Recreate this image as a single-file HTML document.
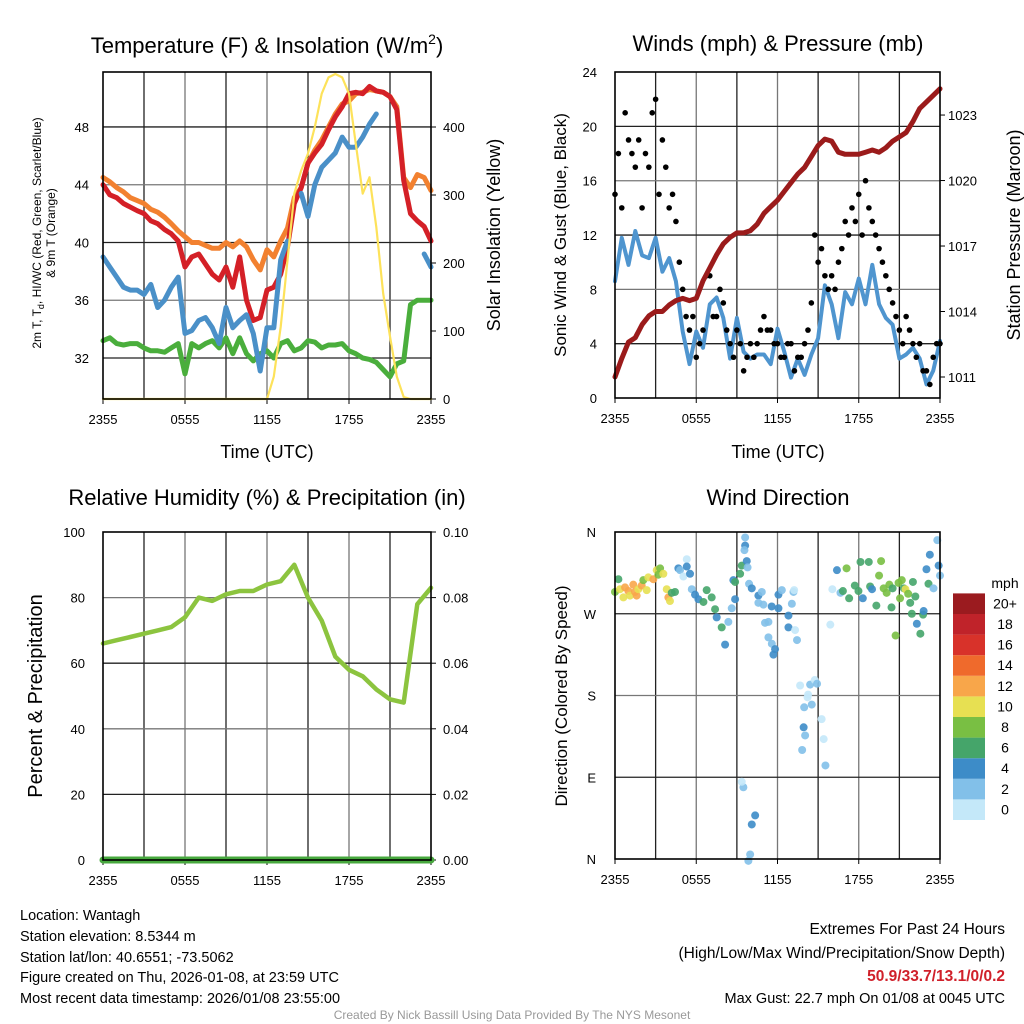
<!DOCTYPE html>
<html><head><meta charset="utf-8"><style>
html,body{margin:0;padding:0;background:#fff;}
svg{display:block;font-family:"Liberation Sans",sans-serif;}
</style></head><body>
<svg id="s" width="1024" height="1024" viewBox="0 0 1024 1024" xmlns="http://www.w3.org/2000/svg">
<rect width="1024" height="1024" fill="#fff"/>
<g font-size="22" text-anchor="middle" fill="#000">
<text x="267" y="53">Temperature (F) &amp; Insolation (W/m<tspan font-size="14" dy="-9">2</tspan><tspan dy="9">)</tspan></text>
<text x="778" y="51">Winds (mph) &amp; Pressure (mb)</text>
<text x="267" y="505">Relative Humidity (%) &amp; Precipitation (in)</text>
<text x="778" y="505">Wind Direction</text>
</g>
<g font-size="18" text-anchor="middle">
<text x="267" y="458">Time (UTC)</text>
<text x="778" y="458">Time (UTC)</text>
<text transform="translate(500,235) rotate(-90)">Solar Insolation (Yellow)</text>
<text transform="translate(566,235) rotate(-90)" font-size="17">Sonic Wind &amp; Gust (Blue, Black)</text>
<text transform="translate(1020,235) rotate(-90)" font-size="18">Station Pressure (Maroon)</text>
<text transform="translate(42,696) rotate(-90)" font-size="20">Percent &amp; Precipitation</text>
<text transform="translate(567,696) rotate(-90)" font-size="17">Direction (Colored By Speed)</text>
</g>
<g font-size="12" text-anchor="middle">
<text transform="translate(41,233) rotate(-90)">2m T, T<tspan font-size="9" dy="3">d</tspan><tspan dy="-3">, HI/WC (Red, Green, Scarlet/Blue)</tspan></text>
<text transform="translate(55,233) rotate(-90)">&amp; 9m T (Orange)</text>
</g>
<g id="plots"></g>
<g font-size="14.5" fill="#000">
<text x="20" y="920">Location: Wantagh</text>
<text x="20" y="941">Station elevation: 8.5344 m</text>
<text x="20" y="962">Station lat/lon: 40.6551; -73.5062</text>
<text x="20" y="982">Figure created on Thu, 2026-01-08, at 23:59 UTC</text>
<text x="20" y="1003">Most recent data timestamp: 2026/01/08 23:55:00</text>
<g text-anchor="end">
<text x="1005" y="934" font-size="15.5">Extremes For Past 24 Hours</text>
<text x="1005" y="958" font-size="15.5">(High/Low/Max Wind/Precipitation/Snow Depth)</text>
<text x="1005" y="981" font-size="15.5" font-weight="bold" fill="#d0202a">50.9/33.7/13.1/0/0.2</text>
<text x="1005" y="1003">Max Gust: 22.7 mph On 01/08 at 0045 UTC</text>
</g>
<text x="512" y="1019" font-size="12" fill="#999" text-anchor="middle">Created By Nick Bassill Using Data Provided By The NYS Mesonet</text>
</g>
</svg>
<script>
const xTicks=['2355','0555','1155','1755','2355'];
const tempTicks=[32,36,40,44,48];
const solarTicks=[0,100,200,300,400];
const windTicks=[0,4,8,12,16,20,24];
const presTicks=[1011,1014,1017,1020,1023];
const rhTicks=[0,20,40,60,80,100];
const precTicks=['0.00','0.02','0.04','0.06','0.08','0.10'];
const dirLabels=['N','E','S','W','N'];
const red=[44,43.3,43.1,42.7,42.45,42.2,42,41.5,41.3,40.9,40.6,40.1,38.3,39,39.2,38.5,37.8,37.4,38.3,36.9,39,36,34.6,34.8,36.7,36.9,37.8,39.7,42.7,43.8,45.5,46.2,46.8,47.8,48.7,49.4,50.3,50.4,50.3,50.8,50.5,50.4,50.1,49.2,44.3,42,41.5,41.1,40.1];
const orange=[44.5,44.2,43.8,43.5,43.1,42.9,42.7,42.3,42.1,41.75,41.3,40.8,40.4,40,40,39.8,39.6,39.6,40,39.7,40.1,39.7,38.8,38.1,39.5,39,40.1,41,43.1,43.8,45.5,46.4,47.1,48,48.9,49.6,49.8,50.3,50.4,50.6,50.5,50.4,50.1,49.4,44.5,43.8,44.7,44.5,43.6];
const blue=[39,38.3,37.6,36.9,36.7,36.7,36.4,37.1,35.5,36,36.9,37.6,33.7,33.9,34.6,34.8,34.1,33,35.5,34.1,34.6,35,33.7,31.1,34.1,34.1,38.8,40.1,null,43.4,41.8,44,45.2,45.7,46.2,47.3,46.6,46.6,47.3,48.2,48.9,null,null,null,42.2,null,null,39.2,38.3];
const green=[33.2,33.4,33,32.9,33,33,32.7,32.5,32.5,32.4,32.7,33,30.9,33,32.7,33,33.2,32.7,33.4,32.3,33.4,32.3,31.8,32.3,32.5,32,33,33.2,32.5,32.7,33.2,33.1,32.7,32.9,32.9,33,32.5,32.3,32,31.9,31.7,31.2,30.7,31.6,31.8,35.7,36,36,36];
const solar=[0,0,0,0,0,0,0,0,0,0,0,0,0,0,0,0,0,0,0,0,0,0,0,0,0,33,106,204,302,336,361,400,449,473,478,473,449,375,302,326,253,155,92,33,3,0,0,0,0];
const pressure=[1011,1011.85,1012.6,1012.8,1013.4,1013.8,1014,1014,1014.3,1014.5,1014.6,1014.5,1014.6,1015.4,1016,1016.6,1017.1,1017.4,1017.6,1017.6,1017.7,1018,1018.5,1018.8,1019.1,1019.5,1019.9,1020.3,1020.6,1021.1,1021.6,1021.9,1021.8,1021.3,1021.2,1021.2,1021.2,1021.3,1021.4,1021.3,1021.5,1021.8,1022,1022.2,1022.7,1023.3,1023.6,1023.9,1024.2];
const wind=[8.6,11.8,9.8,12.3,10.5,10.3,11.8,9.3,10.3,8.6,4.9,2.5,4.9,3.7,6.9,7.4,5.9,2.9,5.9,3.4,2.9,3.2,3.2,2.5,5.1,3.4,1.5,2.9,1.7,3.2,4.4,8.3,6.9,4.4,7.8,6.9,8.8,6.9,9.8,6.9,5.9,5.4,2.9,3.2,3.7,2.9,1,2,4.2];
const gustA=[15,14,19,17,14,17,22,19,14,13,8,5,3,5,9,6,7,4,5,2,4,4,6,5,4,3,4,3,4,7,10,9,9,10,13,14,15,16,13,11,9,7,5,6,4,4,2,3,4];
const gustB=[18,21,18,19,18,21,15,17,15,10,6,6,4,9,6,8,5,3,4,3,3,5,5,4,3,4,2,3,5,12,11,8,8,11,12,13,12,14,12,10,8,6,4,5,3,2,1,4,3];
const rh=[66,67,68,69,70,71,74,80,79,81,82,82,84,85,90,80,73,62,58,56,52,49,48,78,83];
const precip=[0,0,0,0,0,0,0,0,0,0,0,0,0,0,0,0,0,0,0,0,0,0,0,0,0];
const dirHour=[0,0.25,0.37,0.62,0.74,0.99,1.11,1.35,1.48,1.6,1.72,1.97,2.09,2.34,2.46,2.83,3.08,3.2,3.33,3.57,3.82,3.94,4.06,4.19,4.43,4.68,4.8,5.05,5.3,5.3,5.54,5.67,5.91,6.16,6.53,6.77,7.14,7.39,7.51,7.88,8.13,8.37,8.62,8.87,8.74,8.87,9.24,9.36,9.61,9.85,9.98,10.1,10.35,9.48,9.36,9.56,9.73,9.61,9.79,9.9,10.1,10.59,10.59,10.84,10.96,11.08,11.33,11.33,11.58,11.57,11.82,11.7,12.07,12.07,12.32,12.81,12.81,13.06,13.18,13.23,13.3,13.44,13.67,13.82,13.93,13.97,14.04,14.22,14.26,14.41,14.53,14.75,14.92,15.26,15.41,15.54,15.9,16.05,16.39,16.65,16.83,17.1,17.29,17.71,17.98,18.13,18.3,18.74,18.84,18.98,19.3,19.5,19.65,19.84,20.06,20.26,20.42,20.5,20.72,20.94,21.05,21.18,21.33,21.45,21.65,21.8,22.0,21.92,22.18,22.29,22.55,22.75,22.79,23.0,23.15,23.25,23.52,23.8,24.0,23.9];
const dirDeg=[294,308,297,288,299,295,290,302,294,290,297,301,307,296,310,308,318,313,320,314,297,288,284,293,294,320,318,311,330,322,314,297,291,286,283,296,288,275,266,255,236,261,276,286,307,305,314,323,345,-2,5,38,48,79,85,340,328,354,321,303,298,290,282,294,280,260,261,244,237,278,231,225,291,276,296,255,268,281,294,296,252,241,191,120,145,167,136,178,181,192,170,197,193,154,132,103,258,297,318,293,295,320,287,301,295,327,287,327,300,297,279,312,328,298,293,302,277,298,246,304,287,307,298,297,292,282,305,270,289,259,248,269,273,319,303,335,298,351,312,323,334,137,125,132,141,124,215,234,225,346,81,75,62,35,5,1,18,16,20,10];
const dirSpd=[9,7,10,10,12,12,10,12,12,12,10,12,8,10,10,12,10,8,8,10,10,12,10,7,6,4,2,1,1,4,4,3,4,4,6,6,6,7,4,6,4,3,3,4,4,6,6,6,4,2,2,4,4,2,1,3,4,2,2,2,4,4,2,2,2,2,3,2,2,4,4,4,4,4,2,4,4,2,2,1,1,2,1,2,4,3,2,1,1,2,2,1,2,1,1,2,0,1,4,2,6,8,6,6,6,6,4,6,6,4,6,8,8,8,8,8,6,6,8,8,8,8,6,10,8,6,6,6,6,4,6,6,4,4,6,4,2,2,2,4,2,2,4,4,4,2,2,1,1,1,1,1,1,1,2,4,4,2,4,2];
const scaleColors=['#c4e8f9','#82c0e9','#3d8cc8','#45a56a','#79bf43','#e7e052','#f8a64a','#ef6a2c','#d8322a','#c0232a','#9b1b1f'];
const scaleLabels=['0','2','4','6','8','10','12','14','16','18','20+'];

const NS='http://www.w3.org/2000/svg';
const root=document.getElementById('plots');
function mk(tag,attrs,name,parent){
  const el=document.createElementNS(NS,tag);
  for(const k in attrs) el.setAttribute(k,attrs[k]);
  
  
  (parent||root).appendChild(el);
  return el;
}
function txt(x,y,s,anchor,name,size){
  const t=mk('text',{x:x,y:y,'text-anchor':anchor,'font-size':size||13},name);
  t.textContent=s;return t;
}
function panel(L,R,T,B){return {L,R,T,B,x:h=>L+(R-L)*h/24};}
const P1=panel(103,431,72,399), P2=panel(615,940,72,398), P3=panel(103,431,532,860), P4=panel(615,940,532,859);
const yTemp=v=>358-(v-32)*14.44;
const ySolar=v=>399-v*0.68;
const yWind=v=>398-v*13.58;
const yPres=v=>377-(v-1011)*21.83;
const yRH=v=>860-v*3.28;
const yPrec=v=>860-v*3280;
const yDir=d=>859-d/360*327;

function frame(P,hlines,pre){
  for(let k=1;k<8;k++){const x=P.L+(P.R-P.L)*k/8;
    mk('line',{x1:x,x2:x,y1:P.T,y2:P.B,stroke:k%2?'#222':'#777','stroke-width':1.3},pre+'-vgrid');}
  hlines.forEach((y,i)=>mk('line',{x1:P.L,x2:P.R,y1:y,y2:y,stroke:i%2?'#777':'#222','stroke-width':1.3},pre+'-hgrid'));
  xTicks.forEach((s,i)=>{const x=P.L+(P.R-P.L)*i/4;
    mk('line',{x1:x,x2:x,y1:P.B,y2:P.B+5,stroke:'#000'},pre+'-xtick');
    txt(x,P.B+25,s,'middle',pre+'-xtick-label');});
}
function border(P,pre){mk('rect',{x:P.L,y:P.T,width:P.R-P.L,height:P.B-P.T,fill:'none',stroke:'#000','stroke-width':1.6},pre+'-frame');}
function line(P,arr,yf,n,color,w,name){
  let d='',pen=false;
  arr.forEach((v,i)=>{ if(v===null){pen=false;return;}
    const x=P.x(i*24/(n-1)), y=yf(v); d+=(pen?'L':'M')+x.toFixed(1)+' '+y.toFixed(1)+' '; pen=true;});
  mk('path',{d:d,fill:'none',stroke:color,'stroke-width':w,'stroke-linejoin':'round','stroke-linecap':'round'},name);
}

// Panel 1
frame(P1,tempTicks.map(yTemp),'temp');
tempTicks.forEach(t=>txt(P1.L-14,yTemp(t)+5,t,'end','temp-ytick-label'));
solarTicks.forEach(t=>{mk('line',{x1:P1.R,x2:P1.R+5,y1:ySolar(t),y2:ySolar(t),stroke:'#000'},'solar-tick');txt(P1.R+12,ySolar(t)+5,t,'start','solar-tick-label');});
line(P1,green,yTemp,49,'#4aae3c',5,'dewpoint-line');
line(P1,orange,yTemp,49,'#f28130',5,'temp-9m-line');
line(P1,red,yTemp,49,'#d42027',5,'temp-2m-line');
line(P1,blue,yTemp,49,'#4a90c8',5,'windchill-line');
line(P1,solar,ySolar,49,'#fde25a',2.2,'solar-line');
border(P1,'temp');

// Panel 2
frame(P2,windTicks.slice(1,6).map(yWind),'wind');
windTicks.forEach(t=>txt(P2.L-18,yWind(t)+5,t,'end','wind-ytick-label'));
presTicks.forEach(t=>{mk('line',{x1:P2.R,x2:P2.R+5,y1:yPres(t),y2:yPres(t),stroke:'#000'},'pres-tick');txt(P2.R+8,yPres(t)+5,t,'start','pres-tick-label');});
line(P2,wind,yWind,49,'#4f95cf',4,'wind-line');
gustA.forEach((g,i)=>mk('circle',{cx:P2.x(i*0.5),cy:yWind(g),r:2.8,fill:'#000'},'gust-dot'));
gustB.forEach((g,i)=>{ if(i<48) mk('circle',{cx:P2.x(i*0.5+0.25),cy:yWind(g),r:2.8,fill:'#000'},'gust-dot');});
line(P2,pressure,yPres,49,'#9b1b1b',5,'pressure-line');
border(P2,'wind');

// Panel 3
frame(P3,[20,40,60,80].map(yRH),'rh');
rhTicks.forEach((t,i)=>{txt(P3.L-18,yRH(t)+5,t,'end','rh-ytick-label');
  mk('line',{x1:P3.R,x2:P3.R+5,y1:yRH(t),y2:yRH(t),stroke:'#000'},'precip-tick');
  txt(P3.R+12,yRH(t)+5,precTicks[i],'start','precip-tick-label');});
line(P3,rh,yRH,25,'#8cc43f',4.5,'rh-line');
line(P3,precip,yPrec,25,'#47a83e',7,'precip-line');
border(P3,'rh');

// Panel 4
frame(P4,[90,180,270].map(yDir),'dir');
dirLabels.forEach((s,i)=>txt(P4.L-19,yDir(i*90)+5,s,'end','dir-ytick-label'));
dirHour.forEach((h,i)=>{const c=scaleColors[Math.min(10,Math.floor(dirSpd[i]/2))];
  mk('circle',{cx:P4.x(h),cy:yDir(dirDeg[i]),r:4,fill:c,'fill-opacity':0.9},'direction-point');});
border(P4,'dir');
// colorbar
txt(1005,588,'mph','middle','colorbar-title',14);
scaleColors.forEach((c,i)=>{const y=820-(i+1)*20.6;
  mk('rect',{x:953,y:y,width:32,height:20.6,fill:c},'colorbar-box');
  txt(1005,y+15,scaleLabels[i],'middle','colorbar-label',14);});
</script>
</body></html>
